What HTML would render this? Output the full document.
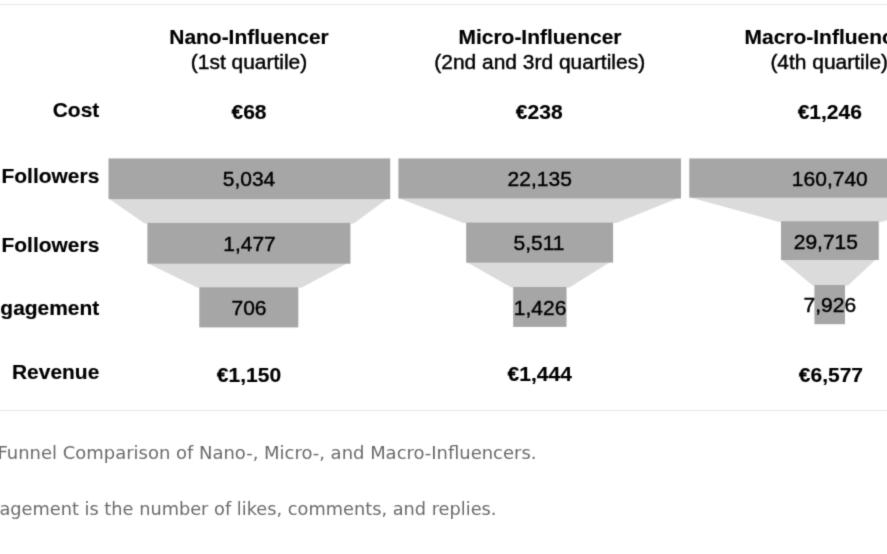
<!DOCTYPE html>
<html lang="en">
<head>
<meta charset="utf-8">
<title>Funnel Comparison of Nano-, Micro-, and Macro-Influencers</title>
<style>
html,body{margin:0;padding:0;background:#fff;}
body{width:887px;height:554px;overflow:hidden;position:relative;font-family:"Liberation Sans",Arial,Helvetica,sans-serif;}
svg{position:absolute;left:-100px;top:0;font-family:"Liberation Sans",Arial,Helvetica,sans-serif;}
</style>
</head>
<body>
<svg width="1100" height="554" viewBox="-100 0 1100 554">
<defs><filter id="soft" x="0" y="0" width="100%" height="100%" filterUnits="objectBoundingBox" color-interpolation-filters="sRGB"><feConvolveMatrix order="3" kernelMatrix="0.0192 0.1001 0.0192 0.1001 0.5228 0.1001 0.0192 0.1001 0.0192" edgeMode="duplicate" preserveAlpha="false"/></filter></defs>
<g filter="url(#soft)">
<rect x="-100" y="0" width="1100" height="554" fill="#fff"/>
<rect x="-100" y="4" width="1100" height="1" fill="#e6e6e6"/>
<rect x="-100" y="410" width="1100" height="1" fill="#e6e6e6"/>
<polygon points="108.8,198.6 387.6,198.6 353.7,223.4 144.6,223.4" fill="#dbdbdb"/>
<polygon points="147.7,263.2 347.4,263.2 301.3,287.8 197.7,287.8" fill="#dbdbdb"/>
<rect x="108.5" y="158.4" width="281.7" height="40.7" fill="#a6a6a6"/>
<rect x="147.4" y="222.9" width="203.0" height="40.8" fill="#a6a6a6"/>
<rect x="199.3" y="287.3" width="99.0" height="40.1" fill="#a6a6a6"/>
<polygon points="398.7,198.0 678.4,198.0 616.4,223.1 463.4,223.1" fill="#dbdbdb"/>
<polygon points="466.5,262.1 610.1,262.1 569.5,287.5 511.6,287.5" fill="#dbdbdb"/>
<rect x="398.4" y="158.4" width="282.6" height="40.1" fill="#a6a6a6"/>
<rect x="466.2" y="222.6" width="146.9" height="40.0" fill="#a6a6a6"/>
<rect x="513.2" y="287.0" width="53.3" height="39.9" fill="#a6a6a6"/>
<polygon points="689.6,197.2 967.7,197.2 882.1,221.7 778.2,221.7" fill="#dbdbdb"/>
<polygon points="781.3,259.5 875.8,259.5 848.0,285.5 812.8,285.5" fill="#dbdbdb"/>
<rect x="689.3" y="158.4" width="281.0" height="39.3" fill="#a6a6a6"/>
<rect x="781.0" y="221.2" width="97.8" height="38.8" fill="#a6a6a6"/>
<rect x="814.4" y="285.0" width="30.6" height="39.2" fill="#a6a6a6"/>
<text transform="translate(249,43.8) scale(1.075,1)" text-anchor="middle" font-size="19.5" font-weight="700" fill="#000" stroke="#000" stroke-width="0.15">Nano-Influencer</text>
<text transform="translate(249,69.2) scale(1.075,1)" text-anchor="middle" font-size="19.5" fill="#000" stroke="#000" stroke-width="0.4">(1st quartile)</text>
<text transform="translate(540.0,43.8) scale(1.075,1)" text-anchor="middle" font-size="19.5" font-weight="700" fill="#000" stroke="#000" stroke-width="0.15">Micro-Influencer</text>
<text transform="translate(539.7,69.2) scale(1.075,1)" text-anchor="middle" font-size="19.5" fill="#000" stroke="#000" stroke-width="0.4">(2nd and 3rd quartiles)</text>
<text transform="translate(829.0,43.8) scale(1.075,1)" text-anchor="middle" font-size="19.5" font-weight="700" fill="#000" stroke="#000" stroke-width="0.15">Macro-Influencer</text>
<text transform="translate(829.2,69.2) scale(1.075,1)" text-anchor="middle" font-size="19.5" fill="#000" stroke="#000" stroke-width="0.4">(4th quartile)</text>
<text transform="translate(99.3,117.1) scale(1.075,1)" text-anchor="end" font-size="19.5" font-weight="700" fill="#000" stroke="#000" stroke-width="0.15">Cost</text>
<text transform="translate(99.3,183.0) scale(1.075,1)" text-anchor="end" font-size="19.5" font-weight="700" fill="#000" stroke="#000" stroke-width="0.15">Followers</text>
<text transform="translate(99.3,251.6) scale(1.075,1)" text-anchor="end" font-size="19.5" font-weight="700" fill="#000" stroke="#000" stroke-width="0.15">Followers</text>
<text transform="translate(99.3,314.8) scale(1.075,1)" text-anchor="end" font-size="19.5" font-weight="700" fill="#000" stroke="#000" stroke-width="0.15">Engagement</text>
<text transform="translate(99.3,378.8) scale(1.075,1)" text-anchor="end" font-size="19.5" font-weight="700" fill="#000" stroke="#000" stroke-width="0.15">Revenue</text>
<text transform="translate(249,119.4) scale(1.052,1)" text-anchor="middle" font-size="20" font-weight="700" fill="#000" stroke="#000" stroke-width="0.15">€68</text>
<text transform="translate(539.2,119.4) scale(1.052,1)" text-anchor="middle" font-size="20" font-weight="700" fill="#000" stroke="#000" stroke-width="0.15">€238</text>
<text transform="translate(829.8,119.4) scale(1.052,1)" text-anchor="middle" font-size="20" font-weight="700" fill="#000" stroke="#000" stroke-width="0.15">€1,246</text>
<text transform="translate(249,381.9) scale(1.052,1)" text-anchor="middle" font-size="20" font-weight="700" fill="#000" stroke="#000" stroke-width="0.15">€1,150</text>
<text transform="translate(539.7,381.2) scale(1.052,1)" text-anchor="middle" font-size="20" font-weight="700" fill="#000" stroke="#000" stroke-width="0.15">€1,444</text>
<text transform="translate(830.9,381.9) scale(1.052,1)" text-anchor="middle" font-size="20" font-weight="700" fill="#000" stroke="#000" stroke-width="0.15">€6,577</text>
<text transform="translate(249,186.0) scale(1.05,1)" text-anchor="middle" font-size="20" fill="#000" stroke="#000" stroke-width="0.4">5,034</text>
<text transform="translate(249.5,250.8) scale(1.05,1)" text-anchor="middle" font-size="20" fill="#000" stroke="#000" stroke-width="0.4">1,477</text>
<text transform="translate(249,315.2) scale(1.05,1)" text-anchor="middle" font-size="20" fill="#000" stroke="#000" stroke-width="0.4">706</text>
<text transform="translate(539.7,186.0) scale(1.05,1)" text-anchor="middle" font-size="20" fill="#000" stroke="#000" stroke-width="0.4">22,135</text>
<text transform="translate(539.0,250.0) scale(1.05,1)" text-anchor="middle" font-size="20" fill="#000" stroke="#000" stroke-width="0.4">5,511</text>
<text transform="translate(540.1,315.0) scale(1.05,1)" text-anchor="middle" font-size="20" fill="#000" stroke="#000" stroke-width="0.4">1,426</text>
<text transform="translate(829.8,186.0) scale(1.05,1)" text-anchor="middle" font-size="20" fill="#000" stroke="#000" stroke-width="0.4">160,740</text>
<text transform="translate(825.8,248.9) scale(1.05,1)" text-anchor="middle" font-size="20" fill="#000" stroke="#000" stroke-width="0.4">29,715</text>
<text transform="translate(829.8,312.4) scale(1.05,1)" text-anchor="middle" font-size="20" fill="#000" stroke="#000" stroke-width="0.4">7,926</text>
<text transform="translate(536.5,458.85) scale(1.063,1)" text-anchor="end" font-family="DejaVu Sans, Liberation Sans, sans-serif" font-size="16.9" fill="#6b6b6b">Funnel Comparison of Nano-, Micro-, and Macro-Influencers.</text>
<text transform="translate(496.5,514.75) scale(1.051,1)" text-anchor="end" font-family="DejaVu Sans, Liberation Sans, sans-serif" font-size="16.9" fill="#6b6b6b">Engagement is the number of likes, comments, and replies.</text>
</g>
</svg>
</body>
</html>
